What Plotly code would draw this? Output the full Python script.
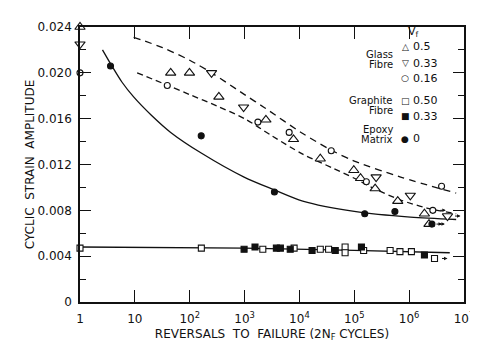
import plotly.graph_objects as go

# ---------------- data ----------------
glass50_x = [1, 45, 99, 340, 2450, 7800, 24000, 98000, 130000, 240000, 620000, 1.9e6, 2.3e6]
glass50_y = [0.0240, 0.0200, 0.0200, 0.0179, 0.0159, 0.0142, 0.0125, 0.0115, 0.0108, 0.0099, 0.0088, 0.0077, 0.0068]

glass33_x = [1, 250, 960, 250000, 1.05e6, 5.0e6]
glass33_y = [0.0225, 0.0200, 0.0170, 0.0109, 0.0093, 0.0075]

glass16_x = [1, 39, 1750, 6500, 38000, 166000, 3.9e6, 2.7e6]
glass16_y = [0.0200, 0.0189, 0.0157, 0.0148, 0.0132, 0.0105, 0.0101, 0.0080]

graph50_x = [1, 163, 2150, 8000, 24000, 34000, 68000, 68000, 148000, 450000, 680000, 1.1e6, 2.9e6]
graph50_y = [0.0047, 0.0047, 0.0046, 0.0047, 0.0046, 0.0046, 0.0048, 0.0043, 0.0045, 0.0045, 0.0044, 0.0044, 0.0038]

graph33_x = [980, 1550, 3800, 4500, 6800, 17000, 45000, 135000, 1.9e6]
graph33_y = [0.0046, 0.0048, 0.0047, 0.0047, 0.0046, 0.0045, 0.0045, 0.0048, 0.0041]

epoxy_x = [3.6, 162, 3500, 155000, 550000, 2.6e6]
epoxy_y = [0.0206, 0.0145, 0.0096, 0.0077, 0.0079, 0.0068]

# run-out specimens (arrows pointing right)
runout_x = [2.7e6, 5.0e6, 2.3e6, 2.6e6, 2.9e6]
runout_y = [0.0080, 0.0075, 0.0068, 0.0068, 0.0038]

# fitted curves
upper_x = [9.5, 32, 100, 250, 1000, 2240, 11500, 40000, 1e5, 7e5, 7.2e6]
upper_y = [0.0231, 0.0222, 0.0211, 0.0200, 0.0181, 0.0170, 0.0147, 0.0132, 0.0123, 0.0109, 0.0095]

lower_x = [11, 40, 100, 316, 1000, 3160, 11500, 40000, 1e5, 2.3e5, 7e5, 2.1e6, 7.2e6]
lower_y = [0.0200, 0.0189, 0.0181, 0.0171, 0.0160, 0.0145, 0.0129, 0.0117, 0.0108, 0.0099, 0.0089, 0.0082, 0.0077]

epoxy_fit_x = [2.57, 3.7, 5.8, 9.5, 20, 45, 162, 980, 3400, 11500, 1e5, 1.05e6, 7.2e6]
epoxy_fit_y = [0.0220, 0.0207, 0.0192, 0.0179, 0.0163, 0.0148, 0.0130, 0.0109, 0.0098, 0.0088, 0.0079, 0.0074, 0.0072]

graph_fit_x = [1, 1e3, 1e5, 5.5e6]
graph_fit_y = [0.0048, 0.0047, 0.0045, 0.0043]

x_tickvals = [1, 10, 100, 1e3, 1e4, 1e5, 1e6, 1e7]
x_ticktext = ["1", "10", "10<sup>2</sup>", "10<sup>3</sup>", "10<sup>4</sup>",
              "10<sup>5</sup>", "10<sup>6</sup>", "10<sup>7</sup>"]
y_tickvals = [0, 0.004, 0.008, 0.012, 0.016, 0.020, 0.024]
y_ticktext = ["0", "0.004", "0.008", "0.012", "0.016", "0.020", "0.024"]

legend_groups = ["Glass<br>Fibre", "Graphite<br>Fibre", "Epoxy<br>Matrix"]
legend_symbols = ["△", "▽", "○", "□", "■", "●"]
legend_values = ["0.5", "0.33", "0.16", "0.50", "0.33", "0"]

# ---------------- figure ----------------
W, H = 478, 343
L, R, T, B = 72, 13, 15, 48
FONT = "DejaVu Sans"
INK = "#111111"

fig = go.Figure()

def line(x, y, dash):
    fig.add_trace(go.Scatter(x=x, y=y, mode="lines",
                             line=dict(color=INK, width=1.3, dash=dash, shape="spline", smoothing=0.8),
                             hoverinfo="skip", showlegend=False, cliponaxis=False))

line(upper_x, upper_y, "7px,5px")
line(lower_x, lower_y, "6px,4px")
line(epoxy_fit_x, epoxy_fit_y, "solid")
line(graph_fit_x, graph_fit_y, "solid")

def pts(x, y, symbol, size, filled):
    fig.add_trace(go.Scatter(x=x, y=y, mode="markers", cliponaxis=False, showlegend=False,
                             marker=dict(symbol=symbol, size=size,
                                         color=INK if filled else "white",
                                         line=dict(color=INK, width=1.1))))

pts(glass50_x, glass50_y, "triangle-up", 9, False)
pts(glass33_x, glass33_y, "triangle-down", 9, False)
pts(glass16_x, glass16_y, "circle", 6, False)
pts(graph50_x, graph50_y, "square", 6, False)
pts(graph33_x, graph33_y, "square", 6, True)
pts(epoxy_x, epoxy_y, "circle", 6, True)

# ---------------- legend as text ----------------
pw = W - L - R
ph = H - T - B
def px(xp):
    return (xp - L) / pw
def py(yp):
    return (H - B - yp) / ph

anns = []
def txt(s, x, y, xanchor="left", size=10):
    anns.append(dict(text=s, x=px(x), y=py(y), xref="paper", yref="paper", showarrow=False,
                     xanchor=xanchor, yanchor="middle", font=dict(family=FONT, size=size, color=INK)))

txt("V<sub>f</sub>", 413, 20, "center", 11)
group_rows = [(43, 53), (90, 100), (119, 130)]
for g, (y1, y2) in zip(legend_groups, group_rows):
    a, b = g.split("<br>")
    txt(a, 394, y1, "right")
    txt(b, 394, y2, "right")
sym_rows = [35, 52, 67, 90, 106, 129]
for s, v, y in zip(legend_symbols, legend_values, sym_rows):
    txt(s, 405, y, "center", 9)
    txt(v, 411, y, "left", 11)

import math
for rx, ry in zip(runout_x, runout_y):
    anns.append(dict(x=math.log10(rx), y=ry, xref="x", yref="y", text="", showarrow=True,
                     ax=-7, ay=0, xshift=13, arrowhead=2, arrowsize=0.7, arrowwidth=1,
                     arrowcolor=INK))

fig.update_layout(
    width=W, height=H,
    margin=dict(l=L, r=R, t=T, b=B),
    paper_bgcolor="white", plot_bgcolor="white",
    font=dict(family=FONT, size=12, color=INK),
    annotations=anns,
    xaxis=dict(type="log", range=[0, 7], tickvals=x_tickvals, ticktext=x_ticktext,
               ticks="inside", ticklen=12, tickwidth=1.3, tickcolor=INK,
               ticklabelstandoff=5,
               showline=True, linecolor=INK, linewidth=1.5, mirror="ticks",
               showgrid=False, zeroline=False, tickfont=dict(size=12),
               title=dict(text="REVERSALS  TO  FAILURE (2N<sub>F</sub> CYCLES)", standoff=4,
                          font=dict(size=12))),
    yaxis=dict(range=[0, 0.024], tickvals=y_tickvals, ticktext=y_ticktext,
               ticks="inside", ticklen=11, tickwidth=1.3, tickcolor=INK,
               ticklabelstandoff=4,
               minor=dict(dtick=0.002, ticks="inside", ticklen=6, tickwidth=1.1, tickcolor=INK),
               showline=True, linecolor=INK, linewidth=1.5, mirror="ticks",
               showgrid=False, zeroline=False, tickfont=dict(size=12),
               title=dict(text="CYCLIC  STRAIN  AMPLITUDE", standoff=0, font=dict(size=12))),
)

fig.write_html("out.html")
